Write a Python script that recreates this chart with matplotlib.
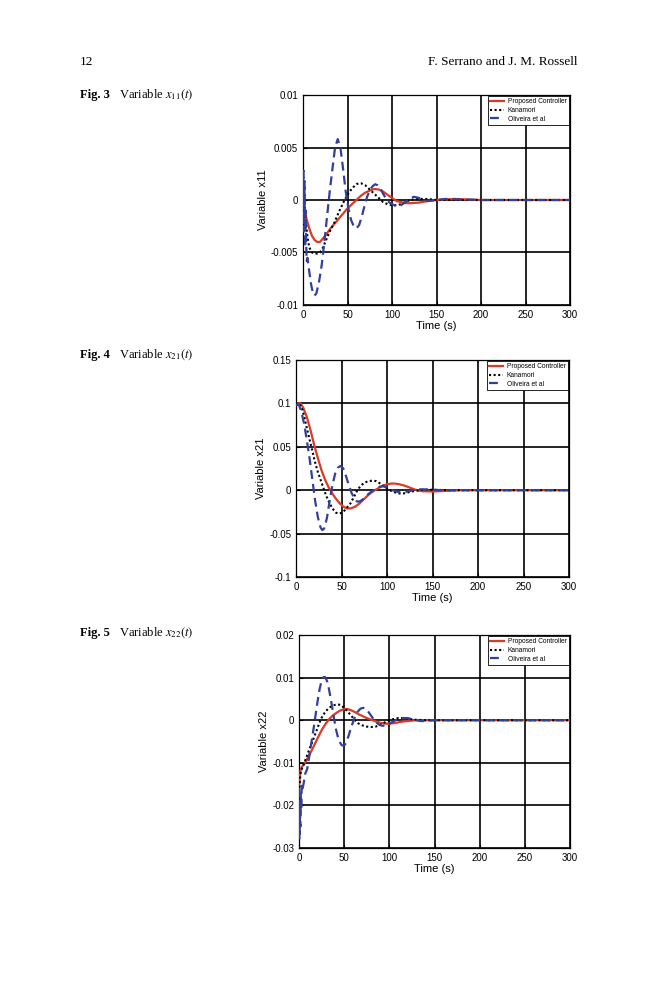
import numpy as np
import matplotlib
matplotlib.use("Agg")
import matplotlib.pyplot as plt

plt.rcParams['font.family'] = ['Liberation Sans', 'DejaVu Sans']
plt.rcParams['mathtext.fontset'] = 'stix'

# ---------------- Fig. 3 : x11 ----------------
t3_prop = [0, 1, 2, 4, 7, 10, 13, 16, 19, 22, 26, 30, 35, 40, 45, 50, 55, 60, 65, 70,
           75, 80, 85, 90, 95, 100, 105, 110, 115, 120, 130, 140, 150, 170, 200, 250, 300]
x11_prop = [0, 0.0008, -0.001, -0.0018, -0.0027, -0.0034, -0.0038, -0.0040, -0.0040, -0.0037,
            -0.0033, -0.0028, -0.0023, -0.0018, -0.0013, -0.0008, -0.0004, 0.0, 0.0004, 0.0007,
            0.0009, 0.00105, 0.001, 0.0008, 0.0005, 0.0002, -0.0001, -0.0002, -0.0003, -0.0003,
            -0.00025, -0.0001, 0.0, 0.0001, 0.0, 0.0, 0.0]

t3_kan = [0, 1, 2, 3, 5, 7, 10, 13, 16, 19, 22, 26, 30, 35, 40, 45, 50, 55, 60, 63, 65, 70,
          75, 80, 85, 90, 95, 100, 105, 110, 115, 120, 130, 140, 150, 170, 200, 250, 300]
x11_kan = [0, 0.0012, -0.001, -0.002, -0.0035, -0.0045, -0.005, -0.0051, -0.0051, -0.005,
           -0.0046, -0.0038, -0.003, -0.0022, -0.0012, -0.0003, 0.0005, 0.0011, 0.0015, 0.0016,
           0.0016, 0.0014, 0.001, 0.0006, 0.0002, -0.0002, -0.0004, -0.0005, -0.0005, -0.0004,
           -0.0002, 0.0, 0.0001, 0.0001, 0.0, 0.0, 0.0, 0.0, 0.0]

t3_oli = [0, 0.6, 1.2, 1.8, 2.4, 3, 4, 5, 7, 9, 11, 13, 15, 18, 21, 24, 27, 30, 33, 36, 39,
          42, 45, 48, 51, 54, 57, 60, 63, 66, 69, 72, 75, 78, 81, 84, 87, 90, 95, 100, 105,
          110, 115, 120, 125, 130, 135, 140, 150, 160, 200, 300]
x11_oli = [0, 0.0028, -0.003, 0.0018, -0.0045, -0.001, -0.0058, -0.0055, -0.0068, -0.008,
           -0.0088, -0.0091, -0.0089, -0.0078, -0.0062, -0.004, -0.0016, 0.0008, 0.0029, 0.005,
           0.0058, 0.005, 0.003, 0.0008, -0.0008, -0.0019, -0.0025, -0.0027, -0.0024, -0.0016,
           -0.0006, 0.0003, 0.0009, 0.0013, 0.0015, 0.0014, 0.0011, 0.0006, -0.0001, -0.0004,
           -0.0006, -0.0005, -0.0002, 0.0002, 0.0003, 0.0002, 0.0, -0.0001, 0.0, 0.0001, 0.0, 0.0]

# ---------------- Fig. 4 : x21 ----------------
t4_prop = [0, 3, 5, 8, 12, 16, 20, 24, 28, 32, 36, 40, 44, 48, 52, 56, 60, 65, 70, 75, 80,
           85, 90, 95, 100, 105, 110, 115, 120, 125, 130, 135, 140, 150, 160, 170, 180, 200,
           250, 300]
x21_prop = [0.098, 0.1005, 0.1, 0.095, 0.084, 0.069, 0.052, 0.037, 0.023, 0.012, 0.003,
            -0.004, -0.010, -0.015, -0.019, -0.021, -0.021, -0.019, -0.015, -0.010, -0.005,
            -0.001, 0.002, 0.005, 0.0068, 0.0077, 0.0075, 0.0065, 0.005, 0.003, 0.001, -0.0005,
            -0.0012, -0.0015, -0.001, -0.0005, 0.0, 0.0, 0.0, 0.0]

t4_kan = [0, 3, 6, 9, 12, 15, 18, 21, 24, 27, 30, 33, 36, 40, 44, 48, 52, 56, 60, 64, 68,
          72, 76, 80, 84, 88, 92, 96, 100, 105, 110, 115, 120, 125, 130, 140, 150, 170, 200,
          250, 300]
x21_kan = [0.098, 0.1, 0.096, 0.085, 0.071, 0.058, 0.045, 0.032, 0.021, 0.012, 0.003,
           -0.006, -0.013, -0.021, -0.026, -0.027, -0.025, -0.020, -0.015, -0.007, 0.001,
           0.006, 0.009, 0.0105, 0.011, 0.0105, 0.008, 0.005, 0.002, -0.001, -0.003, -0.004,
           -0.0035, -0.002, -0.001, 0.0005, 0.0005, 0.0, 0.0, 0.0, 0.0]

t4_oli = [0, 3, 6, 9, 12, 15, 18, 21, 24, 27, 29, 31, 34, 37, 40, 43, 46, 49, 52, 55, 58,
          61, 64, 67, 70, 73, 76, 80, 84, 88, 92, 96, 100, 105, 110, 115, 120, 125, 130, 135,
          140, 150, 160, 170, 200, 300]
x21_oli = [0.098, 0.099, 0.09, 0.076, 0.057, 0.036, 0.012, -0.012, -0.031, -0.043, -0.046,
           -0.044, -0.032, -0.012, 0.006, 0.019, 0.026, 0.028, 0.025, 0.016, 0.006, -0.003,
           -0.009, -0.013, -0.013, -0.011, -0.008, -0.004, -0.001, 0.002, 0.004, 0.0045, 0.003,
           0.0005, -0.0015, -0.0025, -0.002, -0.001, 0.0005, 0.001, 0.001, 0.0005, 0.0, 0.0,
           0.0, 0.0]

# ---------------- Fig. 5 : x22 ----------------
t5_prop = [0, 1, 2, 3, 5, 8, 11, 14, 17, 20, 23, 26, 30, 34, 38, 42, 46, 50, 54, 58, 62,
           66, 70, 75, 80, 85, 90, 95, 100, 105, 110, 115, 120, 125, 130, 140, 150, 200, 250,
           300]
x22_prop = [-0.016, -0.013, -0.0115, -0.011, -0.0105, -0.0095, -0.0083, -0.0071, -0.0058,
            -0.0045, -0.0032, -0.002, -0.0007, 0.0004, 0.0012, 0.0018, 0.0023, 0.0026, 0.0026,
            0.0023, 0.0019, 0.0014, 0.001, 0.0005, 0.0001, -0.0003, -0.0006, -0.0008, -0.0008,
            -0.0007, -0.0005, -0.0003, -0.0002, -0.0001, 0.0, 0.0, 0.0, 0.0, 0.0, 0.0]

t5_kan = [0, 1, 2, 3, 5, 8, 11, 14, 17, 20, 23, 26, 30, 34, 38, 42, 46, 50, 54, 58, 62, 66,
          70, 75, 80, 85, 90, 95, 100, 105, 110, 115, 120, 125, 130, 140, 150, 200, 250, 300]
x22_kan = [-0.018, -0.014, -0.012, -0.0115, -0.0105, -0.0088, -0.0071, -0.0055, -0.0038,
           -0.0021, -0.0004, 0.001, 0.0022, 0.003, 0.0035, 0.0037, 0.0036, 0.0029, 0.002, 0.001,
           0.0, -0.0008, -0.0012, -0.0015, -0.0016, -0.0015, -0.0011, -0.0005, -0.0001, 0.0003,
           0.0005, 0.0005, 0.0004, 0.0002, 0.0001, 0.0, 0.0, 0.0, 0.0, 0.0]

t5_oli = [0, 0.5, 1, 1.5, 2, 2.5, 3, 4, 5, 7, 9, 11, 13, 15, 17, 19, 21, 23, 25, 27, 29, 31,
          33, 35, 37, 39, 41, 43, 45, 47, 49, 51, 53, 55, 57, 59, 62, 65, 68, 71, 74, 77, 80,
          83, 86, 89, 92, 95, 98, 101, 105, 110, 115, 120, 125, 130, 135, 140, 150, 160, 200,
          300]
x22_oli = [-0.016, -0.028, -0.019, -0.025, -0.017, -0.021, -0.015, -0.016, -0.015, -0.0125,
           -0.0115, -0.009, -0.0062, -0.0035, -0.0008, 0.0022, 0.005, 0.0075, 0.0092, 0.0101,
           0.0101, 0.0092, 0.0075, 0.0052, 0.0027, 0.0002, -0.0022, -0.0039, -0.0051, -0.0058,
           -0.006, -0.0057, -0.0048, -0.0036, -0.0022, -0.0009, 0.0008, 0.002, 0.0027, 0.0029,
           0.0027, 0.0019, 0.001, 0.0001, -0.0006, -0.0011, -0.0013, -0.0013, -0.0011, -0.0007,
           -0.0002, 0.0003, 0.0005, 0.0005, 0.0003, 0.0, -0.0002, -0.0002, 0.0, 0.0, 0.0, 0.0]

labels = ["Proposed Controller", "Kanamori", "Oliveira et al"]
xticks = [0, 50, 100, 150, 200, 250, 300]


def draw_panel(ax, series, yticks, yticklabels, ylabel):
    (tp, yp), (tk, yk), (to, yo) = series
    ax.plot(tp, yp, color='#dc3a28', lw=1.6, label=labels[0], zorder=3)
    ax.plot(tk, yk, color='black', lw=1.5, ls=(0, (1, 1.2)), label=labels[1], zorder=4)
    ax.plot(to, yo, color='#33409a', lw=1.6, ls=(0, (4.0, 2.3)), label=labels[2], zorder=5)
    ax.set_xlim(0, 300)
    ax.set_ylim(yticks[0], yticks[-1])
    ax.set_xticks(xticks)
    ax.set_yticks(yticks)
    ax.set_yticklabels(yticklabels)
    ax.grid(True, color='black', lw=1.2)
    ax.tick_params(direction='in', length=3, labelsize=7, width=0.8)
    for s in ax.spines.values():
        s.set_linewidth(0.9)
    ax.set_xlabel("Time (s)", fontsize=8, labelpad=1)
    ax.set_ylabel(ylabel, fontsize=8, labelpad=2)
    leg = ax.legend(loc='upper right', fontsize=4.8, fancybox=False, framealpha=1,
                    edgecolor='black', borderaxespad=0.2, handlelength=2.0,
                    labelspacing=0.25, borderpad=0.3, handletextpad=0.6)
    leg.get_frame().set_linewidth(0.6)


fig = plt.figure(figsize=(6.59, 10), dpi=100)

ax3 = fig.add_axes([303 / 659, 1 - 305 / 1000, 267 / 659, 210 / 1000])
draw_panel(ax3, [(t3_prop, x11_prop), (t3_kan, x11_kan), (t3_oli, x11_oli)],
           [-0.01, -0.005, 0, 0.005, 0.01], ["-0.01", "-0.005", "0", "0.005", "0.01"],
           "Variable x11")

ax4 = fig.add_axes([296 / 659, 1 - 577 / 1000, 273 / 659, 217 / 1000])
draw_panel(ax4, [(t4_prop, x21_prop), (t4_kan, x21_kan), (t4_oli, x21_oli)],
           [-0.1, -0.05, 0, 0.05, 0.1, 0.15], ["-0.1", "-0.05", "0", "0.05", "0.1", "0.15"],
           "Variable x21")

ax5 = fig.add_axes([299 / 659, 1 - 848 / 1000, 271 / 659, 213 / 1000])
draw_panel(ax5, [(t5_prop, x22_prop), (t5_kan, x22_kan), (t5_oli, x22_oli)],
           [-0.03, -0.02, -0.01, 0, 0.01, 0.02],
           ["-0.03", "-0.02", "-0.01", "0", "0.01", "0.02"], "Variable x22")

# page header and captions
serif = ['Liberation Serif', 'DejaVu Serif']
fig.text(80 / 659, 1 - 62 / 1000, "12", family=serif, fontsize=9.5, va='center')
fig.text(578 / 659, 1 - 62 / 1000, "F. Serrano and J. M. Rossell", family=serif,
         fontsize=9.5, va='center', ha='right')

captions = [("Fig. 3", "Variable $x_{11}(t)$", 95),
            ("Fig. 4", "Variable $x_{21}(t)$", 355),
            ("Fig. 5", "Variable $x_{22}(t)$", 633)]
for head, body, ypix in captions:
    fig.text(80 / 659, 1 - ypix / 1000, head, family=serif, fontsize=9, weight='bold',
             va='center')
    fig.text(119 / 659, 1 - ypix / 1000, body, family=serif, fontsize=9, va='center')

fig.savefig("out.png", dpi=100)
